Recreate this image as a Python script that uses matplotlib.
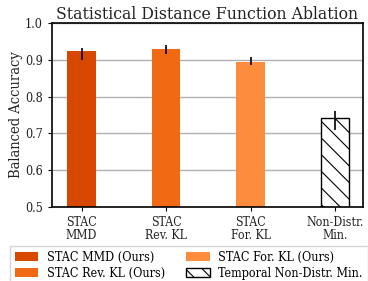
import matplotlib
matplotlib.use("Agg")
import matplotlib.pyplot as plt
import numpy as np

# data
tick_labels = ["STAC\nMMD", "STAC\nRev. KL", "STAC\nFor. KL", "Non-Distr.\nMin."]
legend_labels = ["STAC MMD (Ours)", "STAC Rev. KL (Ours)", "STAC For. KL (Ours)",
                 "Temporal Non-Distr. Min."]
accuracy = [0.924, 0.929, 0.894, 0.742]
err_low = [0.025, 0.012, 0.007, 0.033]
err_high = [0.010, 0.013, 0.014, 0.018]
colors = ["#d94801", "#f16913", "#fd8d3c", "white"]
hatches = [None, None, None, "\\\\"]


def main():
    plt.rcParams["font.family"] = "DejaVu Serif"
    plt.rcParams["font.stretch"] = "condensed"
    plt.rcParams["hatch.linewidth"] = 0.8

    fig = plt.figure(figsize=(3.68, 2.81), dpi=100)
    ax = fig.add_axes([52 / 368, 1 - 206.7 / 281, (363 - 52) / 368, (206.7 - 23.3) / 281])

    x = np.arange(len(accuracy))
    handles = []
    for i in range(len(accuracy)):
        ec = "black" if hatches[i] else colors[i]
        b = ax.bar(x[i], accuracy[i], width=0.34, color=colors[i], edgecolor=ec,
                   hatch=hatches[i], linewidth=1.0 if hatches[i] else 0,
                   label=legend_labels[i], zorder=2)
        ax.errorbar(x[i], accuracy[i], yerr=[[err_low[i]], [err_high[i]]],
                    fmt="none", ecolor="black", elinewidth=1.2, capsize=0, zorder=3)
        handles.append(b)

    ax.set_ylim(0.5, 1.0)
    ax.set_xlim(-0.35, 3.33)
    ax.set_yticks([0.5, 0.6, 0.7, 0.8, 0.9, 1.0])
    ax.set_xticks(x)
    ax.set_xticklabels(tick_labels, fontsize=8.8, linespacing=1.0, color="#222222")
    ax.tick_params(axis="y", labelsize=9, length=3, labelcolor="#222222")
    ax.tick_params(axis="x", length=3)
    ax.yaxis.grid(True, color="#b0b0b0", linewidth=1.0, zorder=0)
    ax.set_axisbelow(True)
    for s in ax.spines.values():
        s.set_linewidth(1.2)
    ax.set_ylabel("Balanced Accuracy", fontsize=10.5, color="#222222")
    ax.yaxis.set_label_coords(-0.092, 0.5)
    ax.set_title("Statistical Distance Function Ablation", fontsize=12.6, pad=3,
                 color="#222222")

    fig.legend(handles=handles, loc="upper left", ncol=2, fontsize=9,
               bbox_to_anchor=(10 / 368, 1 - 246 / 281), frameon=True,
               fancybox=False, edgecolor="#cccccc", handlelength=1.85,
               handletextpad=0.7, columnspacing=1.7, borderaxespad=0,
               labelspacing=0.25, borderpad=0.4)

    fig.savefig("out.png", dpi=100)


if __name__ == '__main__':
    main()
